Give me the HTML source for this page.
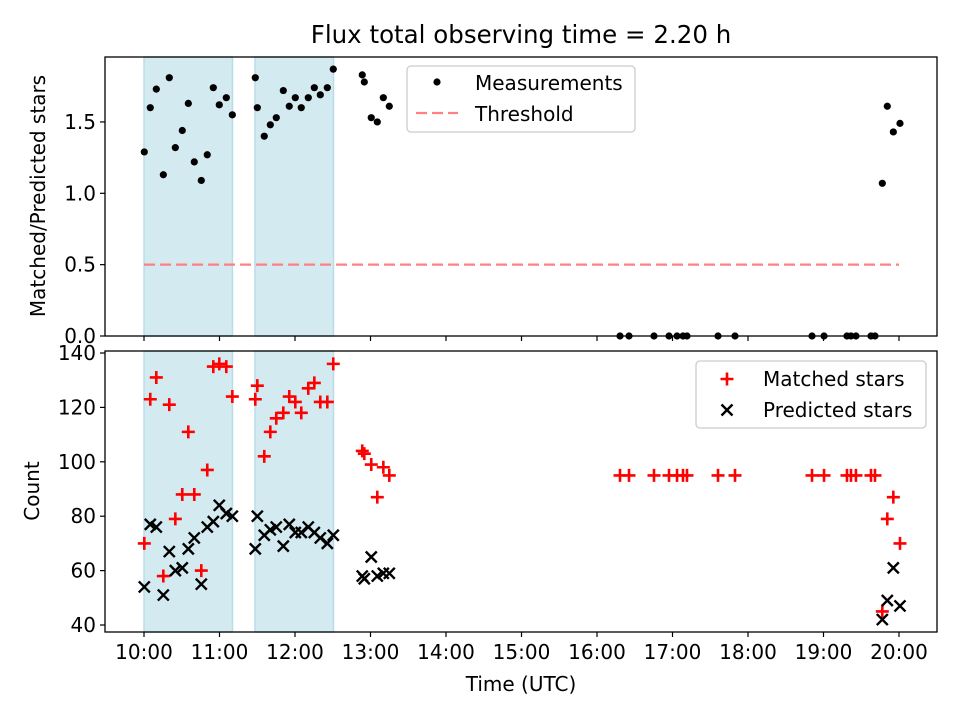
<!DOCTYPE html>
<html><head><meta charset="utf-8"><style>
body{margin:0;background:#fff}
svg{display:block;font-family:"DejaVu Sans","Liberation Sans",sans-serif}
</style></head><body>
<svg id="chart" width="960" height="720" viewBox="0 0 960 720">
<rect width="960" height="720" fill="#fff"/>
<text x="521" y="43" text-anchor="middle" font-size="24.5">Flux total observing time = 2.20 h</text>
<g id="top"></g>
<g id="bot"></g>
<text transform="translate(45,196) rotate(-90)" text-anchor="middle" font-size="20">Matched/Predicted stars</text>
<text transform="translate(39,491) rotate(-90)" text-anchor="middle" font-size="20">Count</text>
<text x="521" y="691" text-anchor="middle" font-size="20">Time (UTC)</text>
</svg>
<script>
const times = [0.004,0.083,0.163,0.256,0.335,0.415,0.507,0.587,0.666,0.759,0.838,0.918,0.997,1.090,1.170,1.474,1.501,1.593,1.673,1.752,1.845,1.924,2.004,2.083,2.176,2.256,2.335,2.428,2.507,2.891,2.918,3.010,3.090,3.170,3.249,6.305,6.424,6.755,6.954,7.060,7.139,7.192,7.603,7.828,8.848,9.007,9.311,9.364,9.430,9.629,9.682,9.779,9.845,9.925,10.013];
const ratio = [1.29,1.60,1.73,1.13,1.81,1.32,1.44,1.63,1.22,1.09,1.27,1.74,1.62,1.67,1.55,1.81,1.60,1.40,1.48,1.53,1.72,1.61,1.67,1.60,1.67,1.74,1.69,1.74,1.87,1.83,1.78,1.53,1.50,1.67,1.61,0,0,0,0,0,0,0,0,0,0,0,0,0,0,0,0,1.07,1.61,1.43,1.49];
const matched = [70,123,131,58,121,79,88,111,88,60,97,135,136,135,124,123,128,102,111,116,118,124,122,118,127,129,122,122,136,104,103,99,87,98,95,95,95,95,95,95,95,95,95,95,95,95,95,95,95,95,95,45,79,87,70];
const predicted = [54,77,76,51,67,60,61,68,72,55,76,78,84,81,80,68,80,73,75,76,69,77,74,74,76,74,72,70,73,58,57,65,58,59,59,null,null,null,null,null,null,null,null,null,null,null,null,null,null,null,null,42,49,61,47];
const spans = [[0,1.172],[1.47,2.51]];
const threshold = 0.5;
const xTickLabels = ["10:00","11:00","12:00","13:00","14:00","15:00","16:00","17:00","18:00","19:00","20:00"];
const ratioTicks = [0,0.5,1.0,1.5];
const countTicks = [40,60,80,100,120,140];

const NS="http://www.w3.org/2000/svg";
function mk(tag,attrs,parent,txt){const e=document.createElementNS(NS,tag);for(const k in attrs)e.setAttribute(k,attrs[k]);if(txt!==undefined)e.textContent=txt;parent.appendChild(e);return e;}
const X=t=>144+t*75.5;
const Yr=v=>336-v*142.7;
const Yc=v=>625-(v-40)*2.72;
const gTop=document.getElementById('top'), gBot=document.getElementById('bot');

function panel(g,y0,y1,Y,ticks,fmt,labels){
  spans.forEach(s=>{const r=mk('rect',{x:X(s[0]),y:y0,width:X(s[1])-X(s[0]),height:y1-y0,fill:'#d4eaf1',stroke:'#b9dde8','stroke-width':1.5},g);
  
  });
  xTickLabels.forEach((l,i)=>{const x=X(i);mk('line',{x1:x,x2:x,y1:y1,y2:y1+5,stroke:'#000','stroke-width':1.2},g);
    if(labels){const t=mk('text',{x:x,y:y1+27,'text-anchor':'middle','font-size':20},g,l);
    
    }});
  ticks.forEach(v=>{const y=Y(v);mk('line',{x1:100,x2:105,y1:y,y2:y,stroke:'#000','stroke-width':1.2},g);
    const t=mk('text',{x:96,y:y+7,'text-anchor':'end','font-size':20},g,fmt(v));
    
    });
}
panel(gTop,57,336,Yr,ratioTicks,v=>v.toFixed(1),false);
panel(gBot,351,632,Yc,countTicks,v=>String(v),true);

const th=mk('line',{x1:X(0),x2:X(10),y1:Yr(threshold),y2:Yr(threshold),stroke:'#ff8080','stroke-width':2.2,'stroke-dasharray':'11,5'},gTop);


times.forEach((t,i)=>{const c=mk('circle',{cx:X(t),cy:Yr(ratio[i]),r:3.6,fill:'#000'},gTop);
  
  });
times.forEach((t,i)=>{const x=X(t),y=Yc(matched[i]);const p=mk('path',{d:`M${x-6.5},${y}H${x+6.5}M${x},${y-6.5}V${y+6.5}`,stroke:'#f00','stroke-width':2.6,fill:'none'},gBot);
  
  });
times.forEach((t,i)=>{if(predicted[i]==null)return;const x=X(t),y=Yc(predicted[i]),d=5.5;const p=mk('path',{d:`M${x-d},${y-d}L${x+d},${y+d}M${x-d},${y+d}L${x+d},${y-d}`,stroke:'#000','stroke-width':2.4,fill:'none'},gBot);
  
  });

[[57,336,gTop],[351,632,gBot]].forEach(([a,b,g])=>{const f=mk('rect',{x:105,y:a,width:832,height:b-a,fill:'none',stroke:'#000','stroke-width':1.3},g);
  
  });

const lg1=mk('g',{},gTop);


mk('rect',{x:407,y:66,width:228,height:66,rx:4,fill:'#fff','fill-opacity':0.85,stroke:'#ccc','stroke-width':1.3},lg1);
mk('circle',{cx:437,cy:82,r:3.6,fill:'#000'},lg1);
mk('text',{x:475,y:90,'font-size':20},lg1,'Measurements');
mk('line',{x1:416,x2:458,y1:113,y2:113,stroke:'#ff8080','stroke-width':2.2,'stroke-dasharray':'11,5'},lg1);
mk('text',{x:475,y:121,'font-size':20},lg1,'Threshold');

const lg2=mk('g',{},gBot);


mk('rect',{x:696,y:361,width:230,height:67,rx:4,fill:'#fff','fill-opacity':0.85,stroke:'#ccc','stroke-width':1.3},lg2);
mk('path',{d:'M720.5,379H733.5M727,372.5V385.5',stroke:'#f00','stroke-width':2.6},lg2);
mk('text',{x:763,y:386,'font-size':20},lg2,'Matched stars');
mk('path',{d:'M721.5,404.5L732.5,415.5M721.5,415.5L732.5,404.5',stroke:'#000','stroke-width':2.4},lg2);
mk('text',{x:763,y:417,'font-size':20},lg2,'Predicted stars');
</script>
</body></html>
